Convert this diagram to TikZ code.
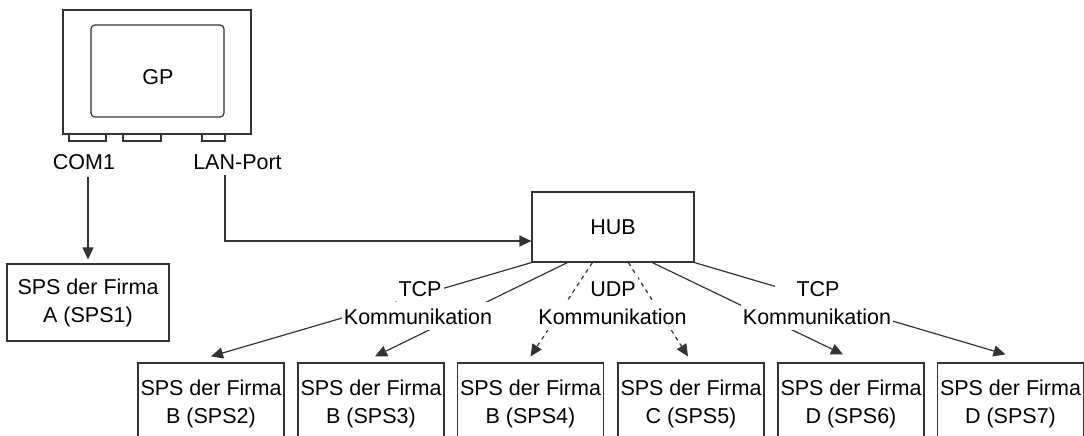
\documentclass[tikz,border=0pt]{standalone}
\usepackage{fontspec}
\setmainfont{Liberation Sans}
\usetikzlibrary{arrows.meta}

\begin{document}
\begin{tikzpicture}[x=0.5pt, y=-0.5pt, line width=0.6pt,
  every node/.style={font=\fontsize{10.75}{14}\selectfont},
  box/.style={draw=black!80, align=center, inner sep=0pt},
  sps/.style={box, minimum width=73pt, minimum height=41pt},
  lbl/.style={fill=white, inner xsep=1pt, inner ysep=3pt, text height=8pt, text depth=0pt},
  arr/.style={draw=black!80, -{Triangle[length=6pt,width=5.5pt]}},
  udp/.style={arr, dash pattern=on 2pt off 2pt}]
\useasboundingbox (0,0) rectangle (1084,435);
\clip (0,0) rectangle (1084,435);
% GP
\node[box, minimum width=94pt, minimum height=62pt] (gp) at (157,72) {};
\node[box, rounded corners=2pt, minimum width=66.5pt, minimum height=46pt] (screen) at (157.5,71) {};
\node (gplabel) at (158,77) {GP};
\draw[black!80] (69,134) rectangle (106,141);
\draw[black!80] (123,134) rectangle (161,141);
\draw[black!80] (202,134) rectangle (225,141);
\node (com1) at (84,162) {COM1};
\node (lan) at (237.5,162) {LAN-Port};
\coordinate (lanport) at (225,175);
% SPS and HUB
\node[box, minimum width=81pt, minimum height=38.5pt] (sps1) at (88,302.5) {SPS der Firma\\A (SPS1)};
\node[box, minimum width=81pt, minimum height=35pt] (hub) at (613,227) {HUB};
\foreach \n/\x/\f in {2/211/B,3/371/B,4/530.5/B,5/691/C,6/851/D,7/1010.5/D}
  \node[sps] (sps\n) at (\x,404) {SPS der Firma\\\f\ (SPS\n)};
% connections
\draw[arr] (sps1.north |- com1.south) -- ([yshift=2pt]sps1.north);
\draw[arr] (lanport) |- ([yshift=-7pt]hub.west);
\draw[arr] (hub.south west) -- ([yshift=3pt]sps2.north);
\draw[arr] ([xshift=18pt]hub.south west) -- ([xshift=2pt,yshift=3pt]sps3.north);
\draw[udp] ([xshift=30.5pt]hub.south west) -- ([yshift=3pt]sps4.north);
\draw[udp] ([xshift=48.5pt]hub.south west) -- ([xshift=-1.5pt,yshift=3pt]sps5.north);
\draw[arr] ([xshift=60.5pt]hub.south west) -- ([xshift=-4pt,yshift=4pt]sps6.north);
\draw[arr] (hub.south east) -- ([xshift=-2.5pt,yshift=4pt]sps7.north);
% labels
\node[lbl] (tcp1) at (420,288) {TCP};
\node[lbl] (kom1) at (418,316) {Kommunikation};
\node[lbl] (udp) at (613,288) {UDP};
\node[lbl] (kom2) at (612.5,316) {Kommunikation};
\node[lbl, minimum width=43pt] (tcp2) at (818,288) {TCP};
\node[lbl] (kom3) at (817,316) {Kommunikation};
\end{tikzpicture}
\end{document}
